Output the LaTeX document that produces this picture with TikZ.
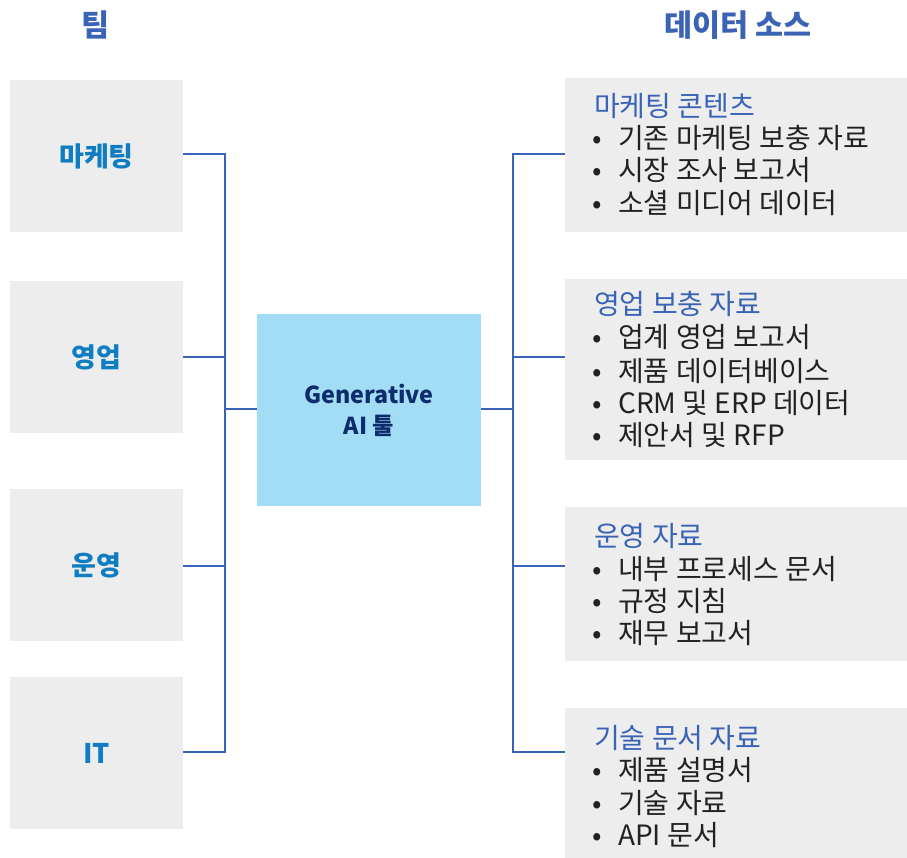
\documentclass[tikz,border=0pt]{standalone}
\usepackage{fontspec}
\setmainfont{Noto Sans CJK KR}
\definecolor{hdrblue}{HTML}{3A63B5}
\definecolor{lblblue}{HTML}{0F7DC2}
\definecolor{linecol}{HTML}{3A62B6}
\definecolor{boxgray}{HTML}{EDEDED}
\definecolor{centerfill}{HTML}{A3DCF5}
\definecolor{navy}{HTML}{0D2C6B}
\definecolor{bodytext}{HTML}{222222}
\tikzset{
  teambox/.style={fill=boxgray, draw=none, minimum width=173pt, minimum height=152pt, inner sep=0pt, font=\fontsize{27}{31}\selectfont\bfseries, text=lblblue},
  srcbox/.style={fill=boxgray, draw=none, inner sep=0pt},
  conn/.style={draw=linecol, line width=1.2pt},
  hdr/.style={font=\fontsize{30.5}{34}\selectfont\bfseries, text=hdrblue},
  stitle/.style={anchor=base west, inner sep=0pt, font=\fontsize{28}{32}\selectfont, text=hdrblue},
  sitem/.style={anchor=base west, inner sep=0pt, font=\fontsize{28}{32}\selectfont, text=bodytext},
  sbullet/.style={anchor=base west, inner sep=0pt, font=\fontsize{28}{32}\selectfont, text=bodytext},
}
\begin{document}
\begin{tikzpicture}[x=1pt,y=-1pt]
\useasboundingbox (0,0) rectangle (907,858);
% headers
\node[hdr] (h1) at (96,25) {팀};
\node[hdr] (h2) at (738,25) {데이터 소스};
% team boxes
\node[teambox] (t1) at (96.5,156) {마케팅};
\node[teambox] (t2) at (96.5,357) {영업};
\node[teambox] (t3) at (96.5,565) {운영};
\node[teambox] (t4) at (96.5,753) {IT};
% center
\node[fill=centerfill, minimum width=224pt, minimum height=192pt, inner sep=0pt, align=center,
  font=\fontsize{23.3}{31}\selectfont\bfseries, text=navy] (c) at (369,410) {Generative\\AI 툴};
% source boxes
\path[srcbox] (565,78) rectangle (907,232);
\path[srcbox] (565,279) rectangle (907,460);
\path[srcbox] (565,507) rectangle (907,661);
\path[srcbox] (565,708) rectangle (907,858);
\coordinate (s1) at (565,154);
\coordinate (s2) at (565,357);
\coordinate (s3) at (565,566);
\coordinate (s4) at (565,752);
% left connectors
\coordinate (lb) at (225,409);
\draw[conn] (t1.east |- 0,154) -| (lb);
\draw[conn] (t4.east |- 0,752) -| (lb);
\draw[conn] (t2.east |- 0,357) -- (225,357);
\draw[conn] (t3.east |- 0,566) -- (225,566);
\draw[conn] (lb) -- (c.west |- lb);
% right connectors
\coordinate (rb) at (513,409);
\draw[conn] (c.east |- rb) -- (rb);
\draw[conn] (s1) -| (rb);
\draw[conn] (s4) -| (rb);
\draw[conn] (s2) -- (513,357);
\draw[conn] (s3) -- (513,566);
% box 1 text
\node[stitle] (b1t) at (594,117) {마케팅 콘텐츠};
\node[sbullet] (b1a) at (592,149) {•}; \node[sitem] (b1ai) at (618,149) {기존 마케팅 보충 자료};
\node[sbullet] (b1b) at (592,181) {•}; \node[sitem] (b1bi) at (618,181) {시장 조사 보고서};
\node[sbullet] (b1c) at (592,214) {•}; \node[sitem] (b1ci) at (618,214) {소셜 미디어 데이터};
% box 2 text
\node[stitle] (b2t) at (594,315) {영업 보충 자료};
\node[sbullet] (b2a) at (592,348) {•}; \node[sitem] (b2ai) at (618,348) {업계 영업 보고서};
\node[sbullet] (b2b) at (592,381) {•}; \node[sitem] (b2bi) at (618,381) {제품 데이터베이스};
\node[sbullet] (b2c) at (592,413) {•}; \node[sitem] (b2ci) at (618,413) {CRM 및 ERP 데이터};
\node[sbullet] (b2d) at (592,445) {•}; \node[sitem] (b2di) at (618,445) {제안서 및 RFP};
% box 3 text
\node[stitle] (b3t) at (594,546) {운영 자료};
\node[sbullet] (b3a) at (592,579) {•}; \node[sitem] (b3ai) at (618,579) {내부 프로세스 문서};
\node[sbullet] (b3b) at (592,611) {•}; \node[sitem] (b3bi) at (618,611) {규정 지침};
\node[sbullet] (b3c) at (592,643) {•}; \node[sitem] (b3ci) at (618,643) {재무 보고서};
% box 4 text
\node[stitle] (b4t) at (594,748) {기술 문서 자료};
\node[sbullet] (b4a) at (592,780) {•}; \node[sitem] (b4ai) at (618,780) {제품 설명서};
\node[sbullet] (b4b) at (592,813) {•}; \node[sitem] (b4bi) at (618,813) {기술 자료};
\node[sbullet] (b4c) at (592,845) {•}; \node[sitem] (b4ci) at (618,845) {API 문서};
\end{tikzpicture}
\end{document}
